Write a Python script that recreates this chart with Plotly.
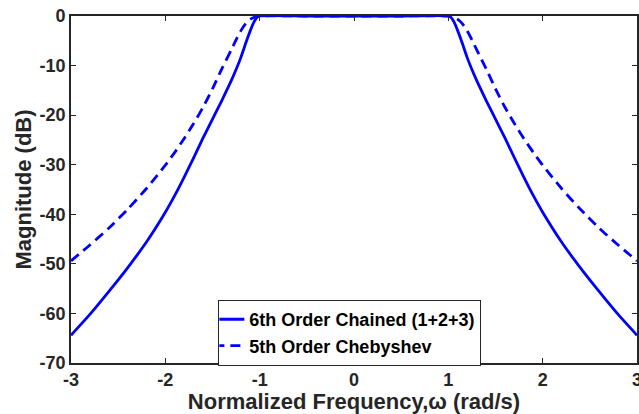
import plotly.graph_objects as go

# Normalized frequency grid (rad/s) for each response
w_chained = [-3.00, -2.80, -2.60, -2.40, -2.20, -2.00, -1.90, -1.80, -1.70, -1.60,
             -1.50, -1.40, -1.30, -1.25, -1.20, -1.15, -1.10, -1.06, -1.03, -1.00,
             -0.50, 0.00, 0.50,
             1.00, 1.03, 1.06, 1.10, 1.15, 1.20, 1.25, 1.30, 1.40, 1.50,
             1.60, 1.70, 1.80, 1.90, 2.00, 2.20, 2.40, 2.60, 2.80, 3.00]
mag_chained = [-64.4, -60.2, -55.6, -50.8, -45.6, -39.6, -36.2, -32.5, -28.6, -24.6,
               -20.8, -17.0, -13.0, -10.8, -8.4, -5.6, -3.0, -1.2, -0.3, 0.0,
               0.0, 0.0, 0.0,
               0.0, -0.3, -1.2, -3.0, -5.6, -8.4, -10.8, -13.0, -17.0, -20.8,
               -24.6, -28.6, -32.5, -36.2, -39.6, -45.6, -50.8, -55.6, -60.2, -64.4]

w_cheby = [-3.00, -2.80, -2.60, -2.40, -2.20, -2.00, -1.90, -1.80, -1.70, -1.60,
           -1.50, -1.40, -1.30, -1.25, -1.20, -1.15, -1.10, -1.05, -1.00,
           -0.50, 0.00, 0.50,
           1.00, 1.05, 1.10, 1.15, 1.20, 1.25, 1.30, 1.40, 1.50, 1.60,
           1.70, 1.80, 1.90, 2.00, 2.20, 2.40, 2.60, 2.80, 3.00]
mag_cheby = [-49.4, -46.2, -42.8, -39.0, -34.8, -30.1, -27.5, -24.7, -21.7, -18.4,
             -14.7, -10.6, -6.8, -4.8, -3.0, -1.6, -0.7, -0.2, 0.0,
             0.0, 0.0, 0.0,
             0.0, -0.2, -0.7, -1.6, -3.0, -4.8, -6.8, -10.6, -14.7, -18.4,
             -21.7, -24.7, -27.5, -30.1, -34.8, -39.0, -42.8, -46.2, -49.4]

x_ticks = [-3, -2, -1, 0, 1, 2, 3]
y_ticks = [-70, -60, -50, -40, -30, -20, -10, 0]

FONT = "Liberation Sans, Arial, Helvetica, sans-serif"
AXIS_COLOR = "#262626"

fig = go.Figure()
fig.add_trace(go.Scatter(
    x=w_chained, y=mag_chained, mode="lines",
    name="6th Order Chained (1+2+3)",
    line=dict(color="#0000FF", width=2.8, shape="spline", smoothing=0.6),
))
fig.add_trace(go.Scatter(
    x=w_cheby, y=mag_cheby, mode="lines",
    name="5th Order Chebyshev",
    line=dict(color="#0000FF", width=2.8, dash="10px,6px",
              shape="spline", smoothing=0.6),
))

axis_common = dict(
    showgrid=False, zeroline=False,
    showline=True, linecolor=AXIS_COLOR, linewidth=1.6, mirror="ticks",
    ticks="inside", ticklen=5, tickwidth=1.3, tickcolor=AXIS_COLOR,
    tickfont=dict(family=FONT, size=18, color=AXIS_COLOR, weight="bold"),
    ticklabeloverflow="allow", automargin=False,
)

fig.update_xaxes(
    range=[-3, 3], tickvals=x_ticks, ticktext=[str(v) for v in x_ticks],
    title=dict(text="Normalized Frequency,ω (rad/s)", standoff=2,
               font=dict(family=FONT, size=22, color=AXIS_COLOR, weight="bold")),
    **axis_common,
)
fig.update_yaxes(
    range=[-70, 0], tickvals=y_ticks, ticktext=[str(v) for v in y_ticks],
    title=dict(text="Magnitude (dB)", standoff=2,
               font=dict(family=FONT, size=22, color=AXIS_COLOR, weight="bold")),
    **axis_common,
)

fig.update_layout(
    width=639, height=414,
    margin=dict(l=71, r=2, t=16, b=51),
    paper_bgcolor="white", plot_bgcolor="white",
    showlegend=True,
    legend=dict(
        x=0.26, y=0.182, xanchor="left", yanchor="top",
        bgcolor="white", bordercolor=AXIS_COLOR, borderwidth=1.2,
        font=dict(family=FONT, size=18, color="black", weight="bold"),
        itemwidth=30, tracegroupgap=0, indentation=-10,
    ),
)

fig.write_html("out.html")
